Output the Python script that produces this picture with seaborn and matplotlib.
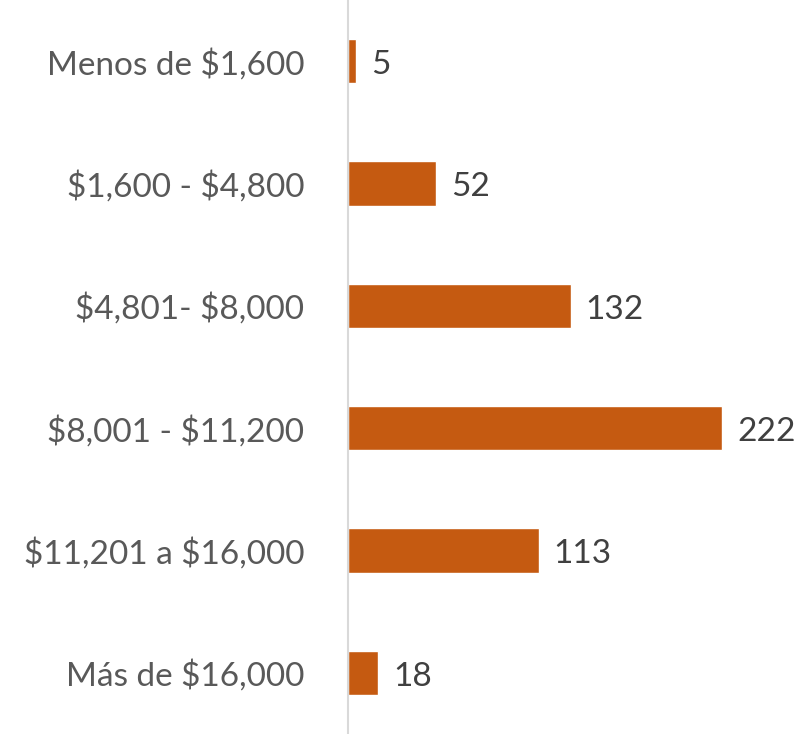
import pandas as pd
import matplotlib.pyplot as plt
import seaborn as sns

# Rangos de ingreso y frecuencias
categories = ['Menos de $1,600', '$1,600 - $4,800', '$4,801- $8,000',
              '$8,001 - $11,200', '$11,201 a $16,000', 'Más de $16,000']
counts = [5, 52, 132, 222, 113, 18]

df = pd.DataFrame({'Rango': categories, 'Total': counts})

sns.set_theme(style='white')
plt.rcParams['font.family'] = ['Lato', 'DejaVu Sans']
plt.rcParams['text.parse_math'] = False

fig = plt.figure(figsize=(8.05, 7.34), dpi=100)
ax = fig.add_axes([348 / 805, 0, 1 - 348 / 805, 1])

sns.barplot(data=df, x='Total', y='Rango', orient='h', color='#C55A11',
            saturation=1, width=0.36, ax=ax)

ax.set_xlim(0, 271)
ax.set_ylim(5.5, -0.5)
for s in ['top', 'right', 'bottom']:
    ax.spines[s].set_visible(False)
ax.spines['left'].set_color('#D9D9D9')
ax.spines['left'].set_linewidth(1.5)
ax.set_xticks([])
ax.set_xlabel('')
ax.set_ylabel('')
ax.tick_params(axis='y', length=0, pad=31.5, labelsize=24, labelcolor='#595959')

for i, v in enumerate(counts):
    ax.text(v + 9, i + 0.03, str(v), va='center', ha='left', fontsize=24,
            color='#404040')

fig.savefig('out.png', dpi=100)
